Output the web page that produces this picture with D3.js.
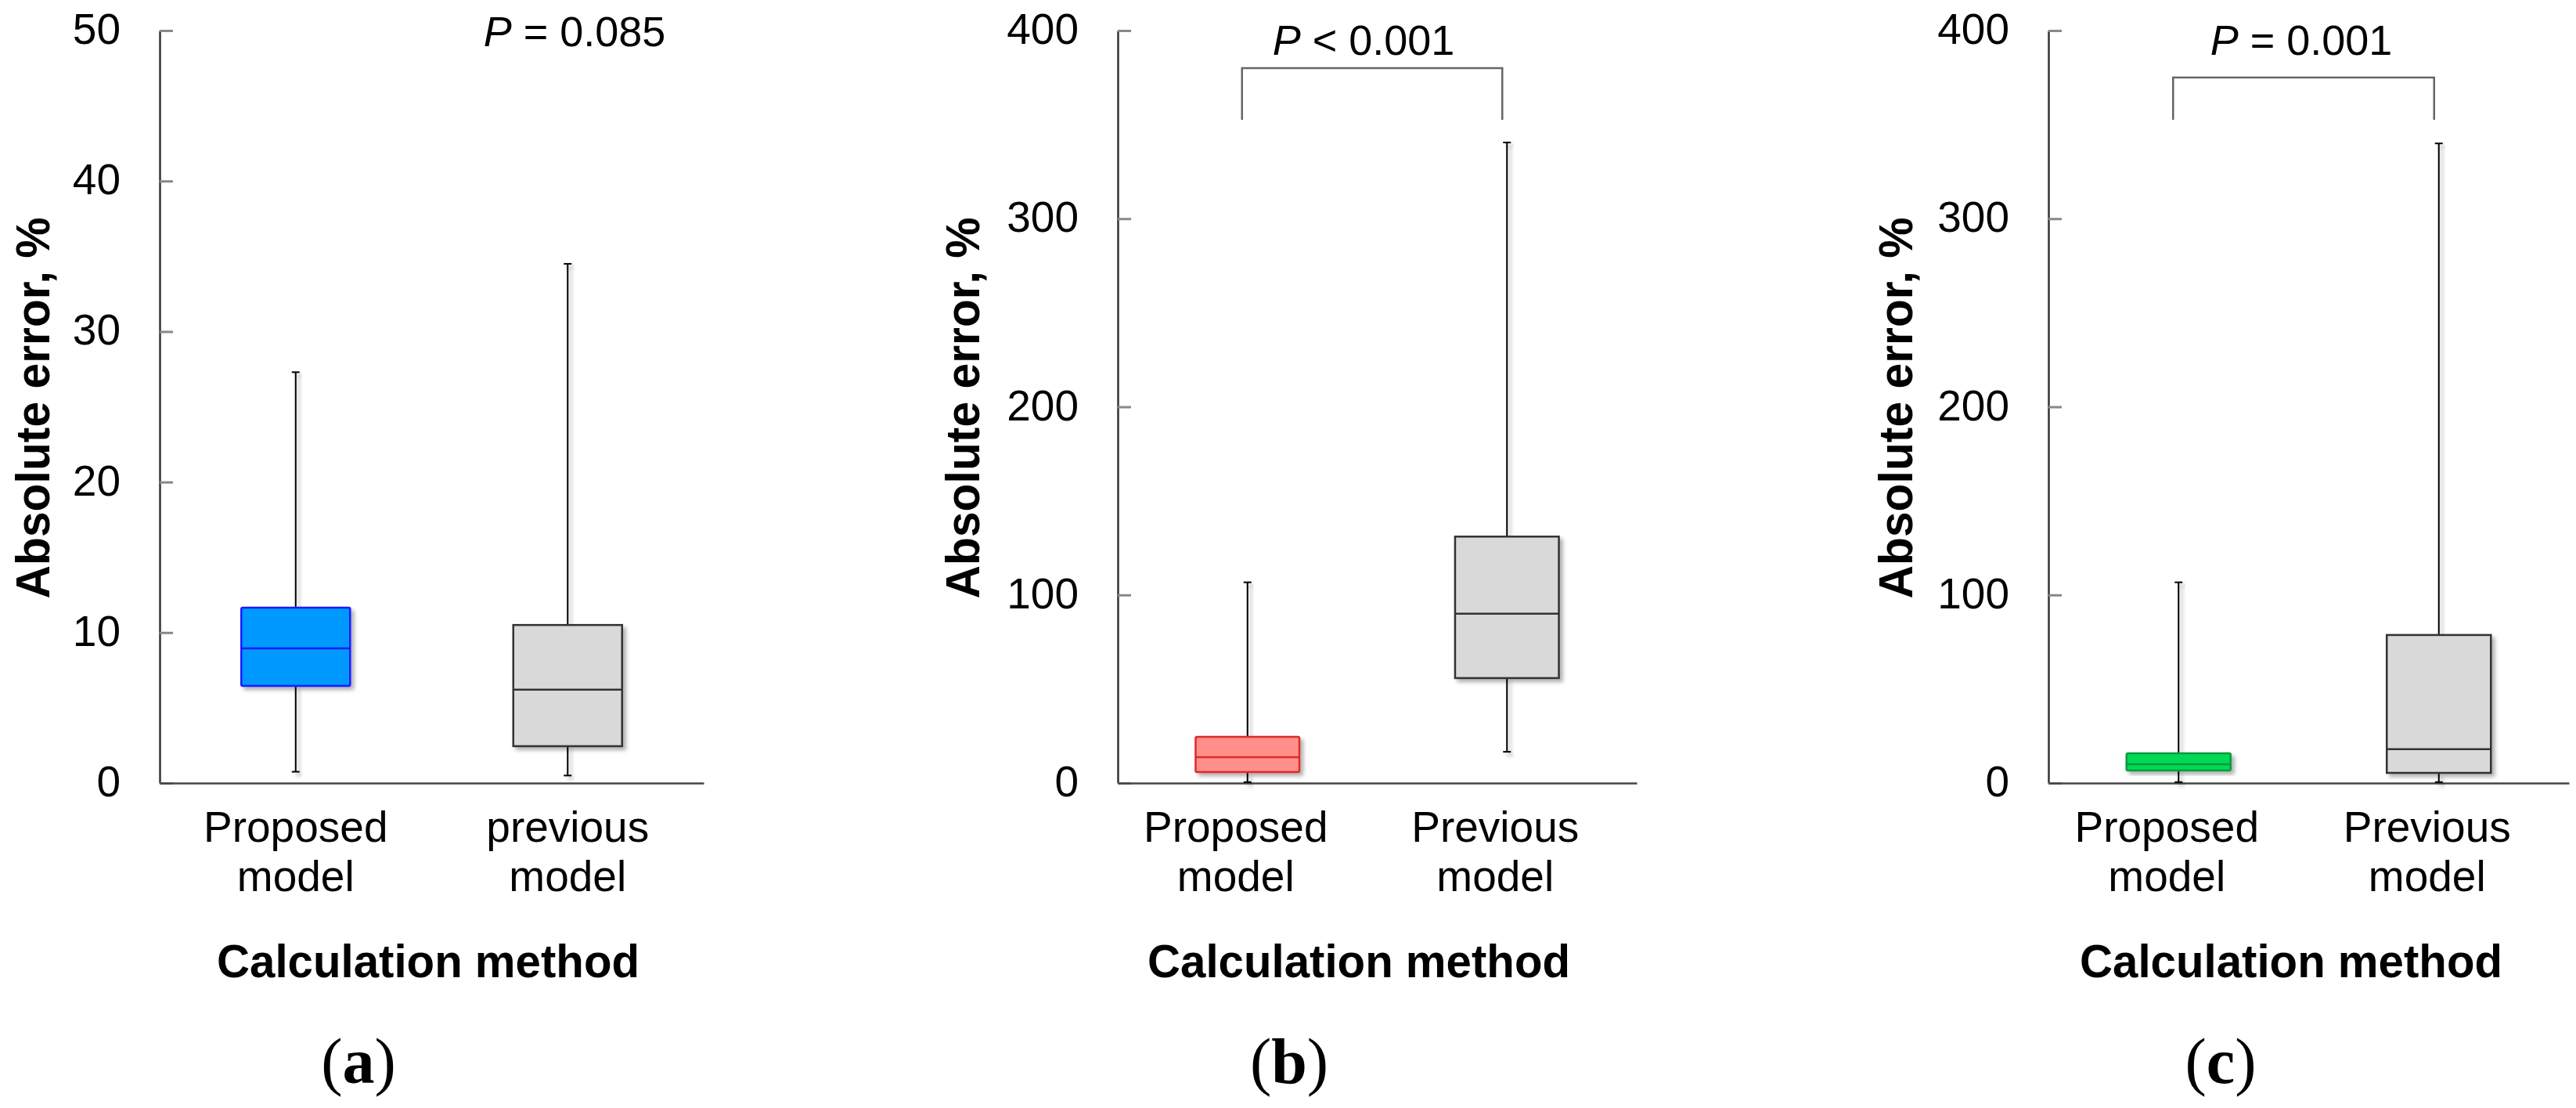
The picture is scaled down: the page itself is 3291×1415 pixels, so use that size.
<!DOCTYPE html>
<html>
<head>
<meta charset="utf-8">
<script src="https://cdn.jsdelivr.net/npm/d3@7/dist/d3.min.js"></script>
<style>
body { margin: 0; background: #fff; }
svg { display: block; }
</style>
</head>
<body>
<div id="chart"></div>
<script>
var width = 3291;
var height = 1415;

// categories per panel
var categoriesA = ["Proposed model", "previous model"];
var categoriesB = ["Proposed model", "Previous model"];
var categoriesC = ["Proposed model", "Previous model"];

// box stats: [min, q1, median, q3, max]
var statsA = [[0.75, 6.45, 8.95, 11.65, 27.3], [0.5, 2.45, 6.2, 10.5, 34.5]];
var statsB = [[0.5, 5.8, 13.7, 24.6, 106.7], [16.6, 55.8, 90, 131, 340.5]];
var statsC = [[0.5, 6.7, 10, 15.8, 106.7], [0.5, 5.4, 18, 78.7, 340]];

// y ticks
var ticksA = [0, 10, 20, 30, 40, 50];
var ticksB = [0, 100, 200, 300, 400];
var ticksC = [0, 100, 200, 300, 400];

var pLabels = ["= 0.085", "< 0.001", "= 0.001"];
var captions = ["a", "b", "c"];

var fills = ["#0099ff", "#ff8f8a", "#00d957"];
var strokes = ["#1a1aff", "#dd2a2a", "#0a9a3c"];
var grayFill = "#d9d9d9";
var grayStroke = "#333";

// layout for each panel
var layout = [
	{left: 204, right: 899, yTitleX: 63, xTitle: 547, cap: 458, pX: 734, pY: 59, bracket: null, shift: 0},
	{left: 1428, right: 2091, yTitleX: 1251, xTitle: 1736, cap: 1647, pX: 1742, pY: 70, bracket: 87, shift: -15},
	{left: 2617, right: 3282, yTitleX: 2443, xTitle: 2927, cap: 2837, pX: 2940, pY: 70, bracket: 99, shift: -15}
];
var plotTop = 39, plotBottom = 1000;

var sans = "'Liberation Sans', Arial, sans-serif";

var svg = d3.select("#chart").append("svg")
	.attr("width", width)
	.attr("height", height);

var defs = svg.append("defs");
defs.append("filter")
	.attr("id", "shadow")
	.attr("x", "-20%").attr("y", "-20%")
	.attr("width", "150%").attr("height", "150%")
	.append("feDropShadow")
	.attr("dx", 4).attr("dy", 4)
	.attr("stdDeviation", 2.5)
	.attr("flood-color", "#000")
	.attr("flood-opacity", 0.3);

var allCats = [categoriesA, categoriesB, categoriesC];
var allStats = [statsA, statsB, statsC];
var allTicks = [ticksA, ticksB, ticksC];

function drawPanel(i) {
	var L = layout[i];
	var cats = allCats[i];
	var stats = allStats[i];
	var ticks = allTicks[i];

	var x = d3.scaleBand()
		.domain(cats)
		.range([L.left, L.right])
		.paddingInner(0.6)
		.paddingOuter(0.3);

	var y = d3.scaleLinear()
		.domain([0, ticks[ticks.length - 1]])
		.range([plotBottom, plotTop]);

	var g = svg.append("g");

	// y axis
	var yAxis = g.append("g")
		.attr("transform", "translate(" + L.left + ",0)")
		.call(d3.axisLeft(y).tickValues(ticks).tickSizeInner(-17).tickSizeOuter(0).tickPadding(50));
	yAxis.select(".domain").attr("stroke", "#333").attr("stroke-width", 2.5);
	yAxis.selectAll(".tick line").attr("stroke", "#888").attr("stroke-width", 3);
	yAxis.selectAll(".tick text")
		.attr("font-family", sans)
		.attr("font-size", 55)
		.attr("fill", "#000")
		.attr("dy", "0.3em");

	// x axis
	var xAxis = g.append("g")
		.attr("transform", "translate(0," + plotBottom + ")")
		.call(d3.axisBottom(x).tickSize(0).tickPadding(0));
	xAxis.select(".domain").attr("stroke", "#444").attr("stroke-width", 2.5);
	xAxis.selectAll(".tick text").remove();
	xAxis.selectAll(".tick").each(function(d) {
		var words = d.split(" ");
		var t = d3.select(this).append("text")
			.attr("font-family", sans)
			.attr("font-size", 55)
			.attr("fill", "#000")
			.attr("text-anchor", "middle");
		words.forEach(function(w, k) {
			t.append("tspan")
				.attr("x", L.shift)
				.attr("y", 75 + k * 63)
				.text(w);
		});
	});

	// boxes
	var boxes = g.selectAll(".box")
		.data(stats)
		.enter()
		.append("g")
		.attr("class", "box");

	boxes.each(function(s, j) {
		var b = d3.select(this);
		var cx = x(cats[j]) + x.bandwidth() / 2;
		var fill = j == 0 ? fills[i] : grayFill;
		var stroke = j == 0 ? strokes[i] : grayStroke;

		var wg = b.append("g").attr("filter", "url(#shadow)");
		wg.append("line")
			.attr("x1", cx).attr("x2", cx)
			.attr("y1", y(s[3])).attr("y2", y(s[4]))
			.attr("stroke", "#000").attr("stroke-width", 2);
		wg.append("line")
			.attr("x1", cx).attr("x2", cx)
			.attr("y1", y(s[1])).attr("y2", y(s[0]))
			.attr("stroke", "#000").attr("stroke-width", 2);
		[s[0], s[4]].forEach(function(v) {
			wg.append("line")
				.attr("x1", cx - 5).attr("x2", cx + 5)
				.attr("y1", y(v)).attr("y2", y(v))
				.attr("stroke", "#000").attr("stroke-width", 2);
		});

		b.append("rect")
			.attr("x", x(cats[j]))
			.attr("y", y(s[3]))
			.attr("width", x.bandwidth())
			.attr("height", y(s[1]) - y(s[3]))
			.attr("rx", j == 0 ? 2 : 0)
			.attr("fill", fill)
			.attr("stroke", stroke)
			.attr("stroke-width", 2.5)
			.attr("filter", "url(#shadow)");
		b.append("line")
			.attr("x1", x(cats[j])).attr("x2", x(cats[j]) + x.bandwidth())
			.attr("y1", y(s[2])).attr("y2", y(s[2]))
			.attr("stroke", stroke).attr("stroke-width", 2.5);
	});

	// bracket
	if (L.bracket != null) {
		var x1 = x(cats[0]) + x.bandwidth() / 2 - 7;
		var x2 = x(cats[1]) + x.bandwidth() / 2 - 6;
		g.append("path")
			.attr("d", "M" + x1 + ",153V" + L.bracket + "H" + x2 + "V153")
			.attr("fill", "none")
			.attr("stroke", "#666")
			.attr("stroke-width", 2.5);
	}

	// p value
	var p = g.append("text")
		.attr("x", L.pX)
		.attr("y", L.pY)
		.attr("text-anchor", "middle")
		.attr("font-family", sans)
		.attr("font-size", 54)
		.attr("fill", "#000");
	p.append("tspan").attr("font-style", "italic").text("P");
	p.append("tspan").text(" " + pLabels[i]);

	// y title
	g.append("text")
		.attr("transform", "translate(" + L.yTitleX + "," + 521 + ") rotate(-90)")
		.attr("text-anchor", "middle")
		.attr("font-family", sans)
		.attr("font-weight", "bold")
		.attr("font-size", 62)
		.attr("textLength", 487)
		.attr("lengthAdjust", "spacingAndGlyphs")
		.text("Absolute error, %");

	// x title
	g.append("text")
		.attr("x", L.xTitle)
		.attr("y", 1248)
		.attr("text-anchor", "middle")
		.attr("font-family", sans)
		.attr("font-weight", "bold")
		.attr("font-size", 60)
		.attr("textLength", 540)
		.attr("lengthAdjust", "spacingAndGlyphs")
		.text("Calculation method");

	// caption
	var c = g.append("text")
		.attr("x", L.cap)
		.attr("y", 1383)
		.attr("text-anchor", "middle")
		.attr("font-family", "'Liberation Serif', 'Times New Roman', serif")
		.attr("font-size", 82)
		.attr("fill", "#000");
	c.append("tspan").text("(");
	c.append("tspan").attr("font-weight", "bold").text(captions[i]);
	c.append("tspan").text(")");
}

for (var i = 0; i < 3; i++) {
	drawPanel(i);
}
</script>
</body>
</html>
